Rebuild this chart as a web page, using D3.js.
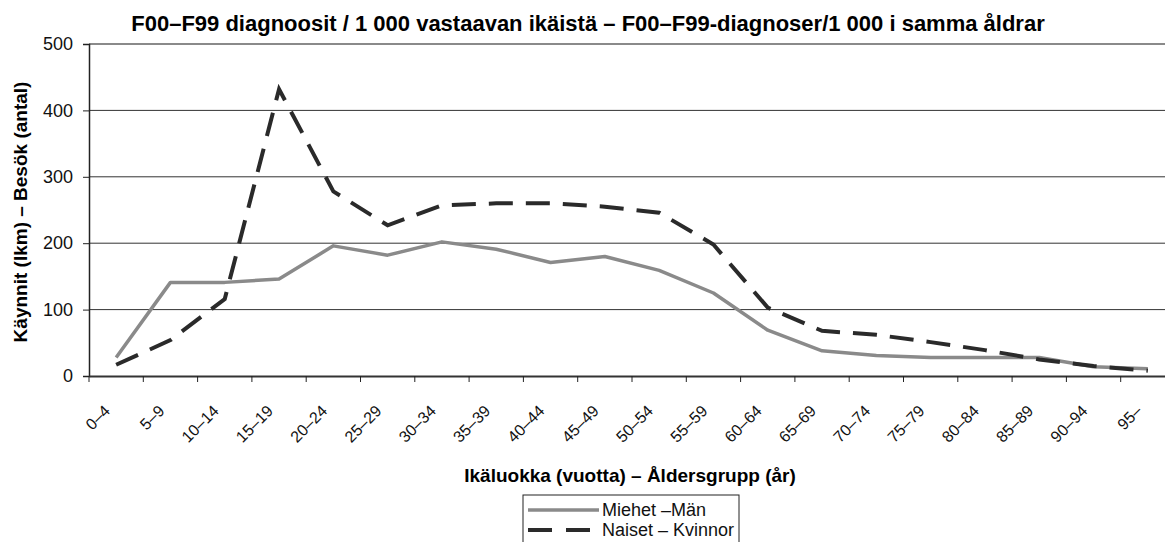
<!DOCTYPE html>
<html>
<head>
<meta charset="utf-8">
<script src="https://cdn.jsdelivr.net/npm/d3@7"></script>
<style>
  body { margin: 0; background: #fff; }
  svg { font-family: "Liberation Sans", Arial, sans-serif; }
</style>
</head>
<body>
<div id="chart"></div>
<script>
// age groups
const ageGroups = ["0–4","5–9","10–14","15–19","20–24","25–29","30–34","35–39","40–44","45–49",
  "50–54","55–59","60–64","65–69","70–74","75–79","80–84","85–89","90–94","95–"]
// visits per 1000 of the same age
const men   = [28, 141, 141, 146, 196, 182, 202, 191, 171, 180, 159, 125, 69, 38, 31, 28, 28, 28, 14, 11]
const women = [17, 54, 116, 432, 278, 227, 257, 260, 260, 255, 246, 198, 103, 68, 62, 51, 39, 25, 15, 8]
const yTicks = [0, 100, 200, 300, 400, 500]

const width = 1165, height = 542
const plotLeft = 89, plotTop = 44, plotBottom = 376
const step = 54.3
const plotRight = plotLeft + step * ageGroups.length

const svg = d3.select("#chart").append("svg")
  .attr("width", width).attr("height", height)

const x = d3.scaleBand().domain(ageGroups).range([plotLeft, plotRight])
const y = d3.scaleLinear().domain([0, 500]).range([plotBottom, plotTop])

// gridlines
svg.append("g").selectAll("line")
  .data(yTicks.filter(d => d > 0))
  .join("line")
    .attr("x1", plotLeft).attr("x2", width)
    .attr("y1", d => y(d)).attr("y2", d => y(d))
    .attr("stroke", d => d == 500 ? "#8a8a8a" : "#333")
    .attr("stroke-width", d => d == 500 ? 2 : 1)

// y axis
const yAxis = svg.append("g")
  .attr("transform", `translate(${plotLeft},0)`)
  .call(d3.axisLeft(y).tickValues(yTicks).tickSize(6).tickPadding(10))
yAxis.select(".domain").attr("stroke", "#222").attr("stroke-width", 1.5)
yAxis.selectAll(".tick line").attr("stroke", "#222")
yAxis.selectAll("text").style("font-size", "18px").attr("fill", "#111")

// x axis
const xAxis = svg.append("g")
  .attr("transform", `translate(0,${plotBottom})`)
  .call(d3.axisBottom(x).tickSize(0).tickSizeOuter(0))
xAxis.select(".domain").attr("stroke", "#333").attr("stroke-width", 2)
xAxis.selectAll(".tick text")
  .style("font-size", "16px").attr("fill", "#111")
  .attr("text-anchor", "end")
  .attr("y", 0).attr("dy", 0)
  .attr("transform", "translate(-5,36) rotate(-45)")
// band boundary ticks
svg.append("g").selectAll("line")
  .data(ageGroups)
  .join("line")
    .attr("x1", d => x(d)).attr("x2", d => x(d))
    .attr("y1", plotBottom).attr("y2", plotBottom + 6)
    .attr("stroke", "#222")

// lines
const line = vals => d3.line()
  .x((d, i) => x(ageGroups[i]) + x.bandwidth() / 2)
  .y(d => y(d))(vals)

svg.append("path")
  .attr("d", line(men))
  .attr("fill", "none").attr("stroke", "#8a8a8a").attr("stroke-width", 3.5)
  .attr("stroke-linejoin", "round")

svg.append("path")
  .attr("d", line(women))
  .attr("fill", "none").attr("stroke", "#2a2a2a").attr("stroke-width", 4)
  .attr("stroke-dasharray", "24,13")

// title
svg.append("text")
  .attr("x", 588).attr("y", 31)
  .attr("text-anchor", "middle")
  .style("font-size", "22px").style("font-weight", "bold")
  .text("F00–F99 diagnoosit / 1 000 vastaavan ikäistä – F00–F99-diagnoser/1 000 i samma åldrar")

// axis titles
svg.append("text")
  .attr("transform", "translate(27,212) rotate(-90)")
  .attr("text-anchor", "middle")
  .style("font-size", "19px").style("font-weight", "bold")
  .text("Käynnit (lkm) – Besök (antal)")

svg.append("text")
  .attr("x", 630).attr("y", 482)
  .attr("text-anchor", "middle")
  .style("font-size", "19px").style("font-weight", "bold")
  .text("Ikäluokka (vuotta) – Åldersgrupp (år)")

// legend
const legend = svg.append("g").attr("transform", "translate(523,495)")
legend.append("rect")
  .attr("x", 0).attr("y", 0).attr("width", 216).attr("height", 60)
  .attr("fill", "#fff").attr("stroke", "#222").attr("stroke-width", 1)
const items = [
  { label: "Miehet –Män", color: "#8a8a8a", dash: null, w: 3.5 },
  { label: "Naiset – Kvinnor", color: "#2a2a2a", dash: "24,14", w: 4 }
]
items.forEach((it, i) => {
  const yy = 15 + i * 20
  legend.append("line")
    .attr("x1", 5).attr("x2", 76).attr("y1", yy).attr("y2", yy)
    .attr("stroke", it.color).attr("stroke-width", it.w)
    .attr("stroke-dasharray", it.dash)
  legend.append("text")
    .attr("x", 79).attr("y", yy + 6)
    .style("font-size", "18px").attr("fill", "#111")
    .text(it.label)
})
</script>
</body>
</html>
